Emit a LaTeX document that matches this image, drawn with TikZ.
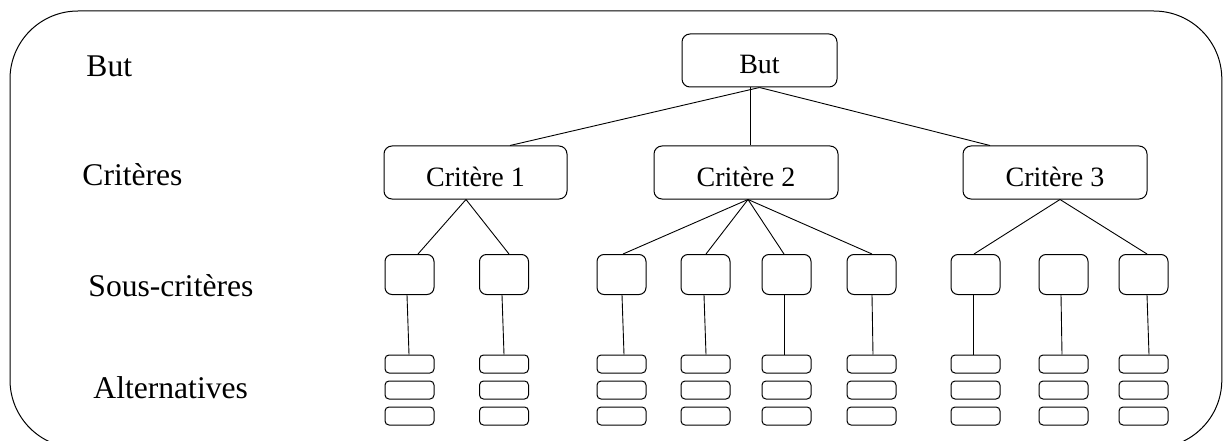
\documentclass[tikz,border=0pt]{standalone}
\usepackage{fontspec}
\setmainfont{Liberation Serif}
\usetikzlibrary{calc}
\begin{document}
\begin{tikzpicture}[x=1pt,y=-1pt,
  line width=0.9pt,
  crit/.style={draw, rounded corners=8pt, line width=1pt, minimum width=#1,
    minimum height=53pt, inner sep=0pt, text height=27pt, text depth=0pt,
    font=\fontsize{28}{30}\selectfont},
  subbox/.style={draw, rounded corners=7pt, line width=1pt, minimum width=49pt,
    minimum height=40pt, inner sep=0pt},
  altbox/.style={draw, rounded corners=4pt, line width=1pt, minimum width=49pt,
    minimum height=18pt, inner sep=0pt},
  lvl/.style={anchor=base west, inner sep=0pt, font=\fontsize{31.6}{34}\selectfont}
]
\useasboundingbox (0,0) rectangle (1223,441);

% outer frame, running past the lower edge
\begin{scope}
  \clip (0,0) rectangle (1223,441);
  \draw[line width=1pt, rounded corners=68pt] (10,11) rectangle (1221.8,448);
\end{scope}

% level labels
\node[lvl] (lbut)  at (86,77)  {But};
\node[lvl] (lcrit) at (82,185) {Critères};
\node[lvl] (lsub)  at (88,296) {Sous-critères};
\node[lvl] (lalt)  at (93,398) {Alternatives};

% goal and criteria
\node[crit=155pt] (but) at (759.5,60.5) {But};
\node[crit=183pt] (c1) at (475.5,172.5) {Critère 1};
\node[crit=184pt] (c2) at (746,172.5) {Critère 2};
\node[crit=184pt] (c3) at (1055,172.5) {Critère 3};

\draw (but.south) -- ($(c1.north)+(34.5,0)$);
\draw ($(but.south)+(-9.5,0)$) -- ($(c2.north)+(4,0)$);
\draw (but.south) -- ($(c3.north)+(-65,0)$);

% sub-criteria with their stacks of alternatives
\foreach \n/\x/\t/\b in {11/409.5/-2.5/-0.5, 12/504/-2/0,
    21/621.5/0.5/2.5, 22/705.5/-1.5/0.5, 23/786.5/-2.5/-2.5, 24/871.5/0.5/1.5,
    31/975.5/-2.5/-2.5, 32/1063.5/-2.5/-1.5, 33/1143.5/3.5/5.5} {
  \node[subbox] (s\n) at (\x,274.5) {};
  \node[altbox] (a\n-1) at (\x,364) {};
  \node[altbox] (a\n-2) at (\x,390) {};
  \node[altbox] (a\n-3) at (\x,416) {};
  \draw ($(s\n.south)+(\t,0)$) -- ($(a\n-1.north)+(\b,0)$);
}

% criteria to sub-criteria
\draw ($(c1.south)+(-9.5,0)$) -- ($(s11.north)+(8.5,0)$);
\draw ($(c1.south)+(-9.5,0)$) -- ($(s12.north)+(5,0)$);

\draw ($(c2.south)+(2,0)$) -- ($(s21.north)+(1.5,0)$);
\draw ($(c2.south)+(2,0)$) -- ($(s22.north)+(0.5,0)$);
\draw ($(c2.south)+(2,0)$) -- ($(s23.north)+(-2.5,0)$);
\draw ($(c2.south)+(2,0)$) -- ($(s24.north)+(0.5,0)$);

\draw ($(c3.south)+(5,0)$) -- ($(s31.north)+(-1.5,0)$);
\draw ($(c3.south)+(5,0)$) -- ($(s33.north)+(3.5,0)$);
\end{tikzpicture}
\end{document}
